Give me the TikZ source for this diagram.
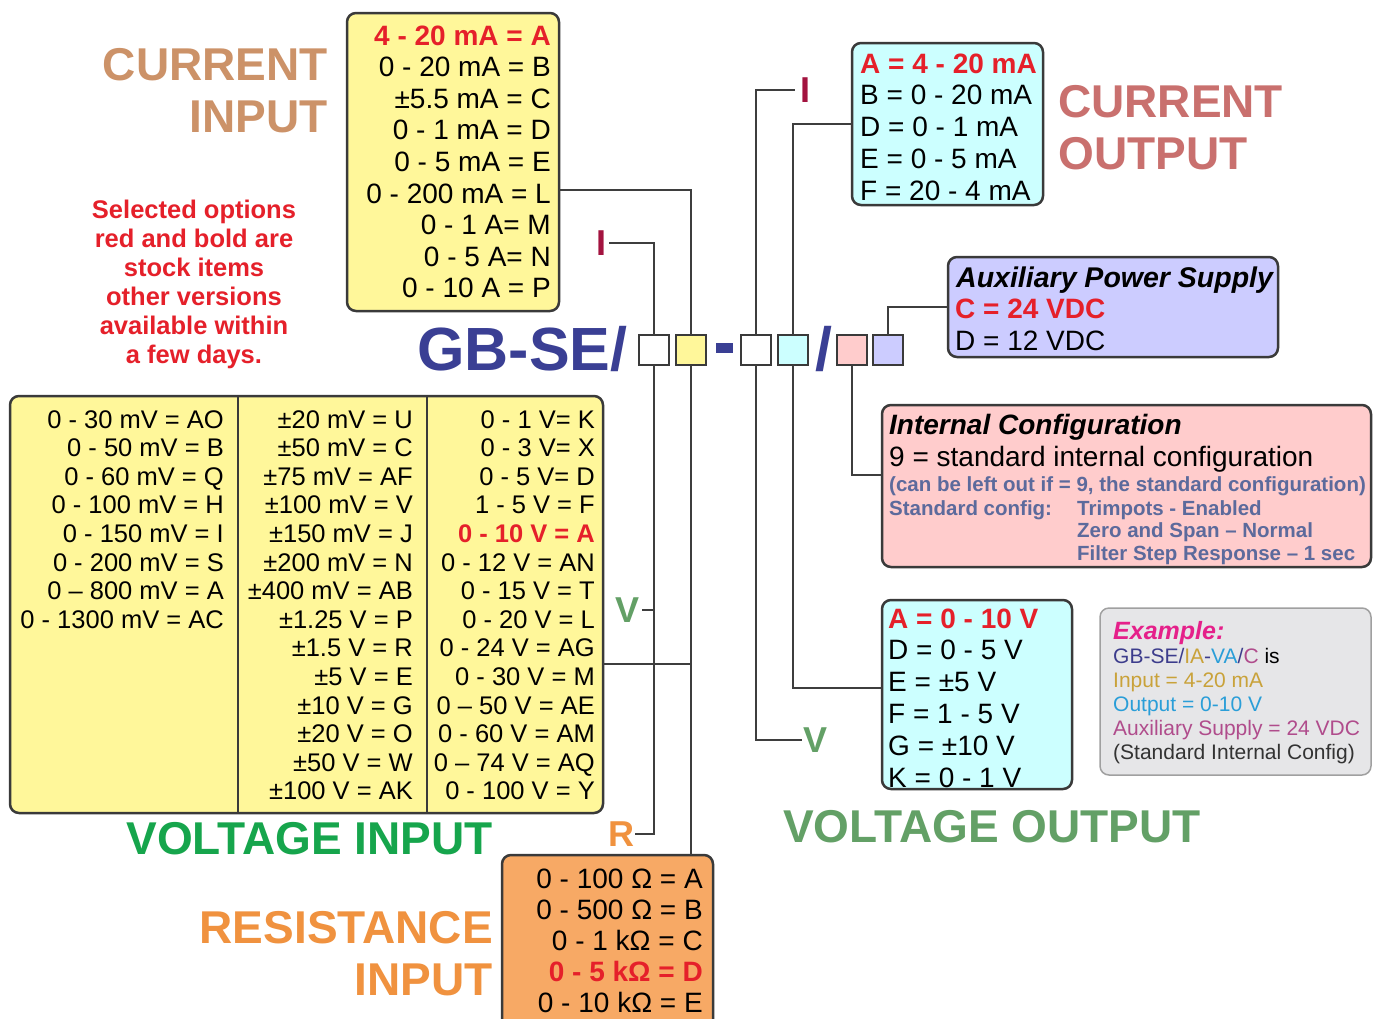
\documentclass[tikz,border=0pt]{standalone}
\usepackage{fontspec}
\setmainfont{Liberation Sans}
\usetikzlibrary{calc}
\definecolor{boxline}{HTML}{3A3A3A}
\definecolor{connline}{HTML}{3E3E3E}
\definecolor{yellowbox}{HTML}{FFF79A}
\definecolor{cyanbox}{HTML}{CCFFFF}
\definecolor{lavbox}{HTML}{CCCCFF}
\definecolor{pinkbox}{HTML}{FFCCCC}
\definecolor{orangebox}{HTML}{F7A965}
\definecolor{exbox}{HTML}{E6E6E8}
\definecolor{exline}{HTML}{A0A0A0}
\definecolor{optred}{HTML}{E5202A}
\definecolor{tanlbl}{HTML}{CC9268}
\definecolor{roselbl}{HTML}{C9706E}
\definecolor{greenvi}{HTML}{16A54C}
\definecolor{greenvo}{HTML}{63A066}
\definecolor{orangelbl}{HTML}{F0923F}
\definecolor{gbblue}{HTML}{3A3F94}
\definecolor{darkred}{HTML}{A3133F}
\definecolor{slate}{HTML}{5C6A9C}
\definecolor{exmag}{HTML}{E5208A}
\definecolor{exgold}{HTML}{C9A23A}
\definecolor{excyan}{HTML}{2A9ED8}
\definecolor{explum}{HTML}{B04C8C}
\definecolor{exdark}{HTML}{333333}
\definecolor{exblue}{HTML}{3C3C8C}
\begin{document}
\begin{tikzpicture}[x=1pt,y=-1pt,
  box/.style={draw=boxline, line width=2.5pt, rounded corners=9pt, inner sep=0pt, outer sep=0pt, anchor=north west},
  sq/.style={draw=boxline, line width=2.5pt, minimum size=30pt, inner sep=0pt, outer sep=0pt},
  conn/.style={draw=connline, line width=2pt},
  divline/.style={draw=boxline, line width=2.5pt},
  tl/.style={font=\fontsize{28}{32}\selectfont, inner sep=0pt},
  tlred/.style={font=\bfseries\fontsize{28}{32}\selectfont, text=optred, inner sep=0pt},
  tv/.style={font=\fontsize{25.5}{29}\selectfont, inner sep=0pt},
  tvred/.style={font=\bfseries\fontsize{25.5}{29}\selectfont, text=optred, inner sep=0pt},
  biglbl/.style={font=\bfseries\fontsize{46}{52}\selectfont, inner sep=0pt},
  letter/.style={font=\bfseries\fontsize{36}{40}\selectfont, inner sep=3pt},
  note/.style={font=\bfseries\fontsize{25.5}{29}\selectfont, text=optred, inner sep=0pt, anchor=base},
  cfg/.style={font=\bfseries\fontsize{20.5}{23}\selectfont, text=slate, inner sep=0pt, anchor=base west},
  ex/.style={font=\fontsize{21}{24}\selectfont, inner sep=0pt, anchor=base west},
]
\clip (0,0) rectangle (1373,1018);
\fill[white] (0,0) rectangle (1373,1018);

% ---------- boxes ----------
\node[box, fill=yellowbox, minimum width=212pt, minimum height=298pt] (cin) at (347,13) {};
\node[box, fill=cyanbox, minimum width=191pt, minimum height=162pt] (cout) at (852,43) {};
\node[box, fill=lavbox, minimum width=330pt, minimum height=100pt] (aux) at (948,257) {};
\node[box, fill=pinkbox, minimum width=489pt, minimum height=162pt] (icfg) at (882,405) {};
\node[box, fill=cyanbox, minimum width=190pt, minimum height=189pt] (vout) at (882,600) {};
\node[box, fill=exbox, draw=exline, line width=1.5pt, minimum width=271pt, minimum height=167pt] (exam) at (1100,608) {};
\node[box, fill=yellowbox, minimum width=593pt, minimum height=417pt] (vin) at (10,396) {};
\node[box, fill=orangebox, minimum width=211pt, minimum height=190pt] (rin) at (502,855) {};
\draw[divline] ([xshift=228pt]vin.north west) -- ([xshift=228pt]vin.south west);
\draw[divline] ([xshift=417pt]vin.north west) -- ([xshift=417pt]vin.south west);

% ---------- code line ----------
\node[font=\bfseries\fontsize{61}{61}\selectfont, text=gbblue, inner sep=0pt, anchor=base west] (gbse) at (417,370) {GB-SE/};
\node[sq, fill=white] (b1) at (654,350) {};
\node[sq, fill=yellowbox] (b2) at (691,350) {};
\node[fill=gbblue, minimum width=17pt, minimum height=10pt, inner sep=0pt] (dash) at (724.5,347.5) {};
\node[sq, fill=white] (b3) at (756,350) {};
\node[sq, fill=cyanbox] (b4) at (793,350) {};
\node[font=\bfseries\fontsize{61}{61}\selectfont, text=gbblue, inner sep=0pt, anchor=base west] (slash) at (815,370) {/};
\node[sq, fill=pinkbox] (b5) at (852,350) {};
\node[sq, fill=lavbox] (b6) at (888,350) {};

% ---------- letter labels ----------
\node[letter, text=darkred] (lI1) at (601,243) {I};
\node[letter, text=greenvo, inner sep=3pt] (lV1) at (627,610) {V};
\node[letter, text=orangelbl, inner sep=1pt] (lR) at (621,834) {R};
\node[letter, text=darkred, inner sep=5pt] (lI2) at (805,90) {I};
\node[letter, text=greenvo, inner sep=1pt] (lV2) at (815,740) {V};

% ---------- tap coordinates ----------
\coordinate (cinTap) at (559,190);
\coordinate (vinTap) at (603,664);
\coordinate (voutTap) at (882,688);
\coordinate (icfgTap) at (882,475);

% ---------- connectors ----------
\draw[conn] (b1.north) |- (lI1.east);
\draw[conn] (b1.south) |- (lR.east);
\draw[conn] (lV1.east) -- (lV1.east -| b1.south);
\draw[conn] (b2.north) |- (cinTap);
\draw[conn] (b2.south) -- (b2.south |- rin.north);
\draw[conn] (vinTap) -- (vinTap -| b2.south);
\draw[conn] (b3.north) |- (lI2.west);
\draw[conn] (b3.south) |- (lV2.west);
\draw[conn] (b4.north) |- (cout.west);
\draw[conn] (b4.south) |- (voutTap);
\draw[conn] (b5.south) |- (icfgTap);
\draw[conn] (b6.north) |- (aux.west);

% ---------- current input ----------
\node[tlred, anchor=base east] (cin0) at (551,45) {4 - 20 mA = A};
\foreach \t [count=\i] in {0 - 20 mA = B, ±5.5 mA = C, 0 - 1 mA = D, 0 - 5 mA = E, 0 - 200 mA = L, 0 - 1 A= M, 0 - 5 A= N, 0 - 10 A = P}
  \node[tl, anchor=base east] (cin\i) at (551,{45+31.6*\i}) {\t};
\node[biglbl, text=tanlbl, anchor=base east] (cinL1) at (328,80) {CURRENT};
\node[biglbl, text=tanlbl, anchor=base east] (cinL2) at (328,132) {INPUT};

% ---------- note ----------
\foreach \t [count=\i from 0] in {Selected options, red and bold are, stock items, other versions, available within, a few days.}
  \node[note] (note\i) at (194,{218+29*\i}) {\t};

% ---------- current output ----------
\node[tlred, anchor=base west] (cout0) at (860,73) {A = 4 - 20 mA};
\foreach \t [count=\i] in {B = 0 - 20 mA, D = 0 - 1 mA, E = 0 - 5 mA, F = 20 - 4 mA}
  \node[tl, anchor=base west] (cout\i) at (860,{73+31.75*\i}) {\t};
\node[biglbl, text=roselbl, anchor=base west] (coutL1) at (1058,117) {CURRENT};
\node[biglbl, text=roselbl, anchor=base west] (coutL2) at (1058,169) {OUTPUT};

% ---------- auxiliary ----------
\node[tl, font=\bfseries\itshape\fontsize{28.5}{32}\selectfont, anchor=base west] (aux0) at (956,287) {Auxiliary Power Supply};
\node[tlred, anchor=base west] (aux1) at (955,318) {C = 24 VDC};
\node[tl, anchor=base west] (aux2) at (955,350) {D = 12 VDC};

% ---------- internal configuration ----------
\node[tl, font=\bfseries\itshape\fontsize{28}{32}\selectfont, anchor=base west] (icfg0) at (889,434) {Internal Configuration};
\node[tl, anchor=base west] (icfg1) at (889,466) {9 = standard internal configuration};
\node[cfg] (icfg2) at (889,491) {(can be left out if = 9, the standard configuration)};
\node[cfg] (icfg3) at (889,515) {Standard config:};
\node[cfg] (icfg4) at (1077,515) {Trimpots - Enabled};
\node[cfg] (icfg5) at (1077,537.5) {Zero and Span – Normal};
\node[cfg] (icfg6) at (1077,560) {Filter Step Response – 1 sec};

% ---------- voltage output ----------
\node[tlred, anchor=base west] (vout0) at (888,628) {A = 0 - 10 V};
\foreach \t [count=\i] in {D = 0 - 5 V, E = ±5 V, F = 1 - 5 V, G = ±10 V, K = 0 - 1 V}
  \node[tl, anchor=base west] (vout\i) at (888,{628+31.8*\i}) {\t};
\node[biglbl, text=greenvo, anchor=base west] (voutL) at (783,842) {VOLTAGE OUTPUT};

% ---------- example ----------
\node[ex, font=\bfseries\itshape\fontsize{25}{28}\selectfont, text=exmag] (ex0) at (1113,639) {Example:};
\node[ex] (ex1) at (1113,663) {{\color{exblue}GB-SE/}{\color{exgold}IA}{\color{exblue}-}{\color{excyan}VA}{\color{exblue}/}{\color{explum}C} is};
\node[ex, text=exgold] (ex2) at (1113,687) {Input = 4-20 mA};
\node[ex, text=excyan] (ex3) at (1113,711) {Output = 0-10 V};
\node[ex, text=explum] (ex4) at (1113,735) {Auxiliary Supply = 24 VDC};
\node[ex, text=exdark] (ex5) at (1113,759) {(Standard Internal Config)};

% ---------- voltage input ----------
\foreach \t [count=\i from 0] in {0 - 30 mV = AO, 0 - 50 mV = B, 0 - 60 mV = Q, 0 - 100 mV = H, 0 - 150 mV = I, 0 - 200 mV = S, 0 – 800 mV = A, 0 - 1300 mV = AC}
  \node[tv, anchor=base east] (va\i) at (224,{428+28.6*\i}) {\t};
\foreach \t [count=\i from 0] in {±20 mV = U, ±50 mV = C, ±75 mV = AF, ±100 mV = V, ±150 mV = J, ±200 mV = N, ±400 mV = AB, ±1.25 V = P, ±1.5 V = R, ±5 V = E, ±10 V = G, ±20 V = O, ±50 V = W, ±100 V = AK}
  \node[tv, anchor=base east] (vb\i) at (413,{428+28.6*\i}) {\t};
\foreach \t/\s [count=\i from 0] in {0 - 1 V= K/tv, 0 - 3 V= X/tv, 0 - 5 V= D/tv, 1 - 5 V = F/tv, 0 - 10 V = A/tvred, 0 - 12 V = AN/tv, 0 - 15 V = T/tv, 0 - 20 V = L/tv, 0 - 24 V = AG/tv, 0 - 30 V = M/tv, 0 – 50 V = AE/tv, 0 - 60 V = AM/tv, 0 – 74 V = AQ/tv, 0 - 100 V = Y/tv}
  \node[\s, anchor=base east] (vc\i) at (595,{428+28.6*\i}) {\t};
\node[biglbl, text=greenvi, anchor=base east] (vinL) at (493,854) {VOLTAGE INPUT};

% ---------- resistance input ----------
\foreach \t/\s [count=\i from 0] in {0 - 100 Ω = A/tl, 0 - 500 Ω = B/tl, 0 - 1 kΩ = C/tl, 0 - 5 kΩ = D/tlred, 0 - 10 kΩ = E/tl}
  \node[\s, anchor=base east] (rin\i) at (703,{888+31.2*\i}) {\t};
\node[biglbl, text=orangelbl, anchor=base east] (rinL1) at (493,943) {RESISTANCE};
\node[biglbl, text=orangelbl, anchor=base east] (rinL2) at (493,995) {INPUT};
\end{tikzpicture}
\end{document}
